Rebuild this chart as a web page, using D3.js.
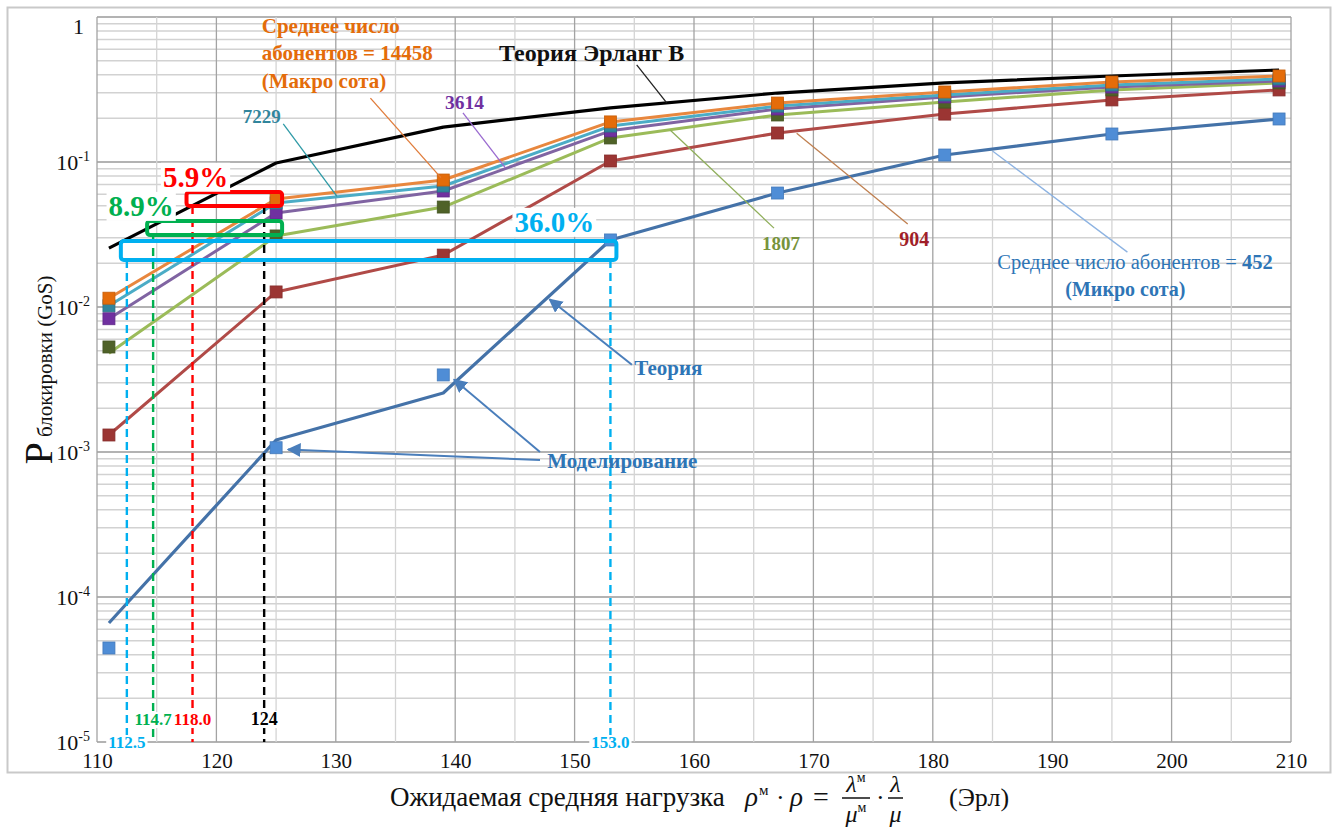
<!DOCTYPE html>
<html>
<head>
<meta charset="utf-8">
<script src="https://cdn.jsdelivr.net/npm/d3@7"></script>
<style>
  body { margin: 0; background: #fff; }
  svg { display: block; }
</style>
</head>
<body>
<svg id="chart" width="1338" height="828"></svg>
<script>
// ---- data -----------------------------------------------------------
const loads = [111, 125, 139, 153, 167, 181, 195, 209];           // offered load, Erl
const erlangB      = [0.0255, 0.0984, 0.174, 0.236, 0.299, 0.351, 0.392, 0.431];
const gos14458     = [0.0115, 0.0556, 0.0751, 0.189, 0.255, 0.304, 0.356, 0.392];
const gos7229      = [0.0102, 0.0522, 0.0683, 0.177, 0.243, 0.290, 0.340, 0.374];
const gos3614      = [0.0083, 0.0445, 0.0631, 0.164, 0.232, 0.281, 0.329, 0.362];
const gos1807Th    = [0.0048, 0.0309, 0.0489, 0.1465, 0.211, 0.259, 0.314, 0.351];
const gos1807Sim   = [0.0053, 0.0309, 0.0489, 0.1465, 0.211, 0.259, 0.314, 0.351];
const gos904       = [0.00131, 0.0127, 0.0228, 0.1016, 0.1585, 0.214, 0.268, 0.314];
const gos452Th     = [0.0000662, 0.00121, 0.00255, 0.029, 0.0611, 0.1117, 0.156, 0.198];
const gos452Sim    = [0.0000445, 0.00107, 0.0034, 0.029, 0.0611, 0.1117, 0.156, 0.198];

const xTicks = [110, 120, 130, 140, 150, 160, 170, 180, 190, 200, 210];
const yTickExps = [0, -1, -2, -3, -4, -5];

// load thresholds at the target blocking levels
const cutLoads  = [112.5, 114.7, 118.0, 124, 153.0];
const cutLabels = ["112.5", "114.7", "118.0", "124", "153.0"];
// ranges compared at a common GoS level
const gapFrom   = [118.0, 114.7, 112.5];
const gapTo     = [125, 125, 153];
const gapLevel  = [0.0556, 0.0350, 0.0245];
const gapText   = ["5.9%", "8.9%", "36.0%"];

// ---- layout ---------------------------------------------------------
const SERIF = "'Liberation Serif', 'DejaVu Serif', serif";
const svg = d3.select("#chart").attr("font-family", SERIF);
const x = d3.scaleLinear().domain([110, 210]).range([97, 1291]);
const y = d3.scaleLog().domain([1e-5, 1]).range([742, 17]);

// outer frame
svg.append("rect").attr("x", 7.5).attr("y", 7.5).attr("width", 1323).attr("height", 765)
  .attr("fill", "#fff").attr("stroke", "#c9c9c9").attr("stroke-width", 2);

// grid
const grid = svg.append("g");
grid.selectAll("line.h").data(y.ticks()).join("line")
  .attr("x1", x(110)).attr("x2", x(210))
  .attr("y1", d => y(d)).attr("y2", d => y(d))
  .attr("stroke", d => Math.abs(Math.log10(d) - Math.round(Math.log10(d))) < 1e-9 ? "#9a9a9a" : "#d2d2d2")
  .attr("stroke-width", 1.5);
grid.selectAll("line.v").data(d3.range(110, 211, 5)).join("line")
  .attr("y1", y(1)).attr("y2", y(1e-5))
  .attr("x1", d => x(d)).attr("x2", d => x(d))
  .attr("stroke", d => d % 10 === 0 ? "#a3a3a3" : "#d4d4d4")
  .attr("stroke-width", 1.3);

// x axis
const xAxis = svg.append("g").attr("transform", `translate(0,${y(1e-5)})`)
  .call(d3.axisBottom(x).tickValues(xTicks).tickSize(0).tickPadding(11).tickFormat(d3.format("d")));
xAxis.attr("font-family", SERIF).attr("font-size", 21);
xAxis.select(".domain").remove();
xAxis.selectAll("text").attr("fill", "#111");

// y axis labels (powers of ten)
const yLab = svg.append("g");
yTickExps.forEach(e => {
  const t = yLab.append("text").attr("text-anchor", "end").attr("font-size", 22).attr("fill", "#111");
  if (e === 0) {
    t.attr("x", 84).attr("y", y(1) + 17).text("1");
  } else {
    t.attr("x", 90).attr("y", y(Math.pow(10, e)) + 8);
    t.append("tspan").text("10");
    t.append("tspan").attr("font-size", 14).attr("dy", -9).text(String(e));
  }
});

// axis titles
const yt = svg.append("text").attr("transform", "translate(52,370) rotate(-90)")
  .attr("text-anchor", "middle").attr("fill", "#111");
yt.append("tspan").attr("font-size", 40).text("P");
yt.append("tspan").attr("font-size", 21).text(" блокировки (GoS)");

// x title with formula
(function () {
  const g = svg.append("g").attr("fill", "#111");
  const base = 806;
  function put(str, px, opt = {}) {
    const t = g.append("text").attr("x", px).attr("y", base + (opt.dy || 0))
      .attr("font-size", opt.fs || 26).text(str);
    if (opt.italic) t.attr("font-style", "italic");
    return t;
  }
  function frac(num, den, sup, px, w) {
    const n = g.append("text").attr("y", base - 14).attr("font-size", 24).attr("font-style", "italic");
    n.append("tspan").text(num);
    if (sup) n.append("tspan").attr("font-size", 14).attr("font-style", "normal").attr("dy", -10).text(sup);
    const d = g.append("text").attr("y", base + 16).attr("font-size", 24).attr("font-style", "italic");
    d.append("tspan").text(den);
    if (sup) d.append("tspan").attr("font-size", 14).attr("font-style", "normal").attr("dy", -10).text(sup);
    n.attr("x", px + (w - n.node().getComputedTextLength()) / 2);
    d.attr("x", px + (w - d.node().getComputedTextLength()) / 2);
    g.append("line").attr("x1", px).attr("x2", px + w).attr("y1", base - 8).attr("y2", base - 8)
      .attr("stroke", "#111").attr("stroke-width", 1.5);
  }
  put("Ожидаемая средняя нагрузка", 390, { fs: 27 });
  put("ρ", 745, { italic: true, fs: 27 });
  put("м", 759, { fs: 15, dy: -11 });
  put("·", 776, { fs: 26 });
  put("ρ", 790, { italic: true, fs: 27 });
  put("=", 813, { fs: 28 });
  frac("λ", "μ", "м", 842, 28);
  put("·", 876, { fs: 26 });
  frac("λ", "μ", "", 888, 15);
  put("(Эрл)", 949, { fs: 26 });
})();

// ---- series ---------------------------------------------------------
const series = [
  { th: erlangB,   sim: null,       line: "#000000", mark: null,      w: 3.2 },
  { th: gos904,    sim: gos904,     line: "#B04A47", mark: "#9B3533", w: 3 },
  { th: gos1807Th, sim: gos1807Sim, line: "#9BBB59", mark: "#4F6228", w: 3 },
  { th: gos3614,   sim: gos3614,    line: "#8064A2", mark: "#7030A0", w: 3 },
  { th: gos7229,   sim: gos7229,    line: "#4BACC6", mark: "#31859C", w: 3 },
  { th: gos14458,  sim: gos14458,   line: "#E8873E", mark: "#E46C0A", w: 3 },
  { th: gos452Th,  sim: gos452Sim,  line: "#4472A8", mark: "#4F8DD6", w: 3.2 }
];
const lineGen = d3.line().x((d, i) => x(loads[i])).y(d => y(d));
const plot = svg.append("g");
series.forEach(s => {
  plot.append("path").attr("d", lineGen(s.th)).attr("fill", "none")
    .attr("stroke", s.line).attr("stroke-width", s.w).attr("stroke-linejoin", "round");
});
series.forEach(s => {
  if (!s.sim) return;
  plot.selectAll(null).data(s.sim).join("rect")
    .attr("x", (d, i) => x(loads[i]) - 6).attr("y", d => y(d) - 6)
    .attr("width", 12).attr("height", 12)
    .attr("fill", s.mark).attr("stroke", d3.color(s.mark).darker(0.4)).attr("stroke-width", 0.8);
});

// ---- gap boxes and cutoff lines -----------------------------------------
const gapColors = ["#FF0000", "#00B050", "#00B0F0"];
const gapH = [14, 14, 19];
const ann = svg.append("g");
const cutColors = ["#00B0F0", "#00B050", "#FF0000", "#000000", "#00B0F0"];
const cutTop = [gapLevel[2], gapLevel[1], gapLevel[0], gapLevel[0], gapLevel[2]];
const cutTopPad = [gapH[2] / 2, gapH[1] / 2, gapH[0] / 2, gapH[0] / 2, gapH[2] / 2];
cutLoads.forEach((v, i) => {
  ann.append("line").attr("x1", x(v)).attr("x2", x(v))
    .attr("y1", y(cutTop[i]) + cutTopPad[i]).attr("y2", y(1e-5))
    .attr("stroke", cutColors[i]).attr("stroke-width", 2.4).attr("stroke-dasharray", "8,5");
});
gapFrom.forEach((v, i) => {
  ann.append("rect").attr("x", x(v) - 6).attr("width", x(gapTo[i]) - x(v) + 12)
    .attr("y", y(gapLevel[i]) - gapH[i] / 2).attr("height", gapH[i])
    .attr("rx", 3).attr("fill", "none").attr("stroke", gapColors[i]).attr("stroke-width", 4);
});

function bgText(parent, tx, ty, str, opts) {
  const t = parent.append("text").attr("x", tx).attr("y", ty).text(str)
    .attr("font-size", opts.fs).attr("font-weight", opts.bold ? "bold" : null)
    .attr("fill", opts.color).attr("text-anchor", opts.anchor || "start");
  const b = t.node().getBBox();
  parent.insert("rect", () => t.node()).attr("x", b.x - 2).attr("y", b.y + 2)
    .attr("width", b.width + 4).attr("height", b.height - 3).attr("fill", "#fff");
  return t;
}
// percent labels
const gapLabelPos = [[118.25, 0.0675], [113.7, 0.0425], [148.3, 0.0330]];
gapText.forEach((s, i) => bgText(ann, x(gapLabelPos[i][0]), y(gapLabelPos[i][1]), s,
  { fs: 29, bold: true, color: gapColors[i], anchor: "middle" }));
// cutoff value labels
const cutLabelP = [1e-5, 1.44e-5, 1.44e-5, 1.44e-5, 1e-5];
const cutLabelSize = [17, 17, 17, 18, 17];
cutLoads.forEach((v, i) => bgText(ann, x(v), y(cutLabelP[i]) + 6, cutLabels[i],
  { fs: cutLabelSize[i], bold: true, color: cutColors[i], anchor: "middle" }));

// ---- callouts -------------------------------------------------------
const defs = svg.append("defs");
defs.append("marker").attr("id", "arr").attr("viewBox", "0 0 10 10").attr("refX", 9).attr("refY", 5)
  .attr("markerWidth", 7).attr("markerHeight", 7).attr("orient", "auto-start-reverse")
  .append("path").attr("d", "M0,0 L10,5 L0,10 z").attr("fill", "#4A7EBB");

const leaders = [
  { from: [132.9, 0.276],   to: [138.8, 0.078],   color: "#E07B39" },
  { from: [155.2, 0.467],   to: [157.7, 0.257],   color: "#222" },
  { from: [125.6, 0.183],   to: [130.1, 0.058],   color: "#2E9AA6" },
  { from: [140.65, 0.218],  to: [144.2, 0.091],   color: "#9A6AD0" },
  { from: [166.7, 0.035],   to: [158.0, 0.166],   color: "#8FAE5A" },
  { from: [177.9, 0.0373],  to: [168.6, 0.158],   color: "#C08050" },
  { from: [196.3, 0.0239],  to: [185.0, 0.119],   color: "#8DB3E2" },
  { from: [154.8, 0.0040],  to: [147.9, 0.0113],  color: "#4A7EBB", arrow: true },
  { from: [147.1, 0.00100], to: [139.9, 0.00316], color: "#4A7EBB", arrow: true },
  { from: [147.1, 0.00088], to: [126.0, 0.00104], color: "#4A7EBB", arrow: true }
];
const callouts = svg.append("g");
leaders.forEach(l => {
  const ln = callouts.append("line")
    .attr("x1", x(l.from[0])).attr("y1", y(l.from[1]))
    .attr("x2", x(l.to[0])).attr("y2", y(l.to[1]))
    .attr("stroke", l.color).attr("stroke-width", l.arrow ? 2 : 1.3);
  if (l.arrow) ln.attr("marker-end", "url(#arr)");
});

const notes = [
  { at: [123.8, 0.776], lines: ["Среднее число", "абонентов = 14458", "(Макро сота)"], color: "#E46C0A", fs: 21, bold: true },
  { at: [143.67, 0.50], lines: ["Теория Эрланг В"], color: "#111", fs: 24, bold: true },
  { at: [122.2, 0.186], lines: ["7229"], color: "#31859C", fs: 19, bold: true },
  { at: [139.15, 0.232], lines: ["3614"], color: "#7030A0", fs: 19.5, bold: true },
  { at: [165.7, 0.0246], lines: ["1807"], color: "#77933C", fs: 19, bold: true },
  { at: [177.2, 0.0263], lines: ["904"], color: "#A01E28", fs: 20, bold: true },
  { at: [155.0, 0.0034], lines: ["Теория"], color: "#2E75B6", fs: 21, bold: true },
  { at: [147.7, 0.00078], lines: ["Моделирование"], color: "#2E75B6", fs: 21, bold: true }
];
notes.forEach(n => {
  const t = callouts.append("text").attr("x", x(n.at[0])).attr("y", y(n.at[1]))
    .attr("font-size", n.fs).attr("font-weight", n.bold ? "bold" : null).attr("fill", n.color);
  n.lines.forEach((s, i) => t.append("tspan").attr("x", x(n.at[0])).attr("dy", i ? 27.5 : 0).text(s));
});
// micro-cell label (mixed weights)
const micro = callouts.append("text").attr("x", x(185.4)).attr("y", y(0.0183))
  .attr("font-size", 20.5).attr("fill", "#2E75B6");
micro.append("tspan").text("Среднее число абонентов = ");
micro.append("tspan").attr("font-weight", "bold").text("452");
callouts.append("text").attr("x", x(191.1)).attr("y", y(0.0119)).attr("font-size", 20)
  .attr("font-weight", "bold").attr("fill", "#2E75B6").text("(Микро сота)");
</script>
</body>
</html>
